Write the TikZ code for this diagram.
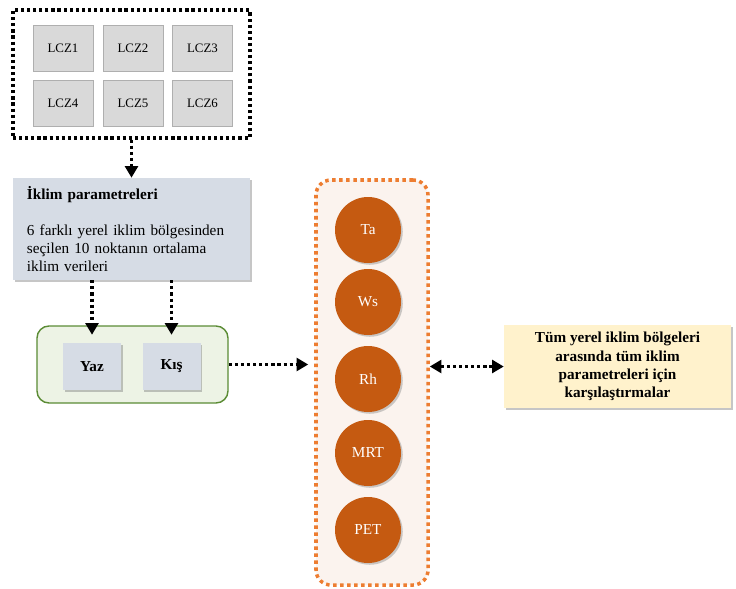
\documentclass[tikz,border=0pt]{standalone}
\usepackage{fontspec}
\setmainfont{Liberation Serif}
\usetikzlibrary{arrows.meta,shadows}

\definecolor{cellgray}{HTML}{D9D9D9}
\definecolor{cellline}{HTML}{AFAFAF}
\definecolor{bluegray}{HTML}{D6DCE5}
\definecolor{leafgreen}{HTML}{5B8C35}
\definecolor{palegreen}{HTML}{EDF3E5}
\definecolor{rust}{HTML}{C55A11}
\definecolor{tangerine}{HTML}{ED7D31}
\definecolor{peach}{HTML}{FBF3EE}
\definecolor{cream}{HTML}{FFF2CC}

\begin{document}
\begin{tikzpicture}[x=0.03cm,y=-0.03cm]

\tikzstyle{lcz}=[rectangle,draw=cellline,fill=cellgray,line width=0.8pt,minimum width=1.8cm,minimum height=1.38cm,font=\fontsize{11}{13}\selectfont,drop shadow={opacity=0.25,shadow xshift=0.6pt,shadow yshift=-0.6pt}]
\tikzstyle{plain}=[rectangle,fill=bluegray,drop shadow={opacity=0.45,shadow xshift=1.5pt,shadow yshift=-1.5pt}]
\tikzstyle{param}=[circle,fill=rust,text=white,minimum size=1.98cm,inner sep=0pt,font=\fontsize{13}{15}\selectfont,drop shadow={opacity=0.4,shadow xshift=1.5pt,shadow yshift=-1.5pt}]
\tikzstyle{dots}=[line width=2.7pt,dash pattern=on 2.7pt off 2.5pt]
\tikzstyle{link}=[dots,-{Triangle[length=10pt,width=11pt]}]
\tikzstyle{twoway}=[dots,{Triangle[length=10pt,width=11pt]}-{Triangle[length=10pt,width=11pt]}]

\useasboundingbox (0,0) rectangle (736,588) ;

% zones
\node[rectangle,draw,dots,minimum width=7.11cm,minimum height=3.84cm] (zones) at (131.5,74) {} ;
\node[lcz] (z1) at (63,48)    {LCZ1} ;
\node[lcz] (z2) at (133,48)   {LCZ2} ;
\node[lcz] (z3) at (202.5,48) {LCZ3} ;
\node[lcz] (z4) at (63,103)   {LCZ4} ;
\node[lcz] (z5) at (133,103)  {LCZ5} ;
\node[lcz] (z6) at (202.5,103) {LCZ6} ;

% climate data
\node[plain,minimum width=7.11cm,minimum height=3.06cm,text width=6.27cm,align=left,font=\fontsize{13}{15.3}\selectfont] (data) at (131.5,229)
  {\textbf{İklim parametreleri}\\[15.3pt]6 farklı yerel iklim bölgesinden\\seçilen 10 noktanın ortalama\\iklim verileri} ;

% seasons
\node[rectangle,rounded corners=0.36cm,draw=leafgreen,line width=1.2pt,fill=palegreen,minimum width=5.73cm,minimum height=2.31cm] (season) at (132.5,364.5) {} ;
\node[plain,minimum width=1.74cm,minimum height=1.41cm,font=\fontsize{13}{15}\selectfont\bfseries] (yaz) at (92,366.5)  {Yaz} ;
\node[plain,minimum width=1.74cm,minimum height=1.41cm,font=\fontsize{13}{15}\selectfont\bfseries] (kis) at (171.5,366.5) {Kış} ;

% parameters
\node[rectangle,rounded corners=0.45cm,draw=tangerine,fill=peach,line width=3pt,dash pattern=on 3pt off 3pt,minimum width=3.36cm,minimum height=12.15cm] (params) at (372,382.5) {} ;
\node[param] (ta)  at (368,230) {Ta} ;
\node[param] (ws)  at (368,302) {Ws} ;
\node[param] (rh)  at (368,379) {Rh} ;
\node[param] (mrt) at (368,453) {MRT} ;
\node[param] (pet) at (368,530) {PET} ;

% comparison
\node[rectangle,fill=cream,minimum width=6.81cm,minimum height=2.49cm,align=center,font=\fontsize{13}{15.5}\selectfont\bfseries,drop shadow={opacity=0.45,shadow xshift=1.5pt,shadow yshift=-1.5pt}] (comp) at (617.5,366.5)
  {Tüm yerel iklim bölgeleri\\arasında tüm iklim\\parametreleri için\\karşılaştırmalar} ;

\draw[link] (zones.south) -- (data.north) ;
\draw[link,shorten >=0.24cm] (data.south -| yaz.north) -- (yaz.north) ;
\draw[link,shorten >=0.24cm] (data.south -| kis.north) -- (kis.north) ;
\draw[link,shorten >=0.18cm] (season.east) -- (season.east -| params.west) ;
\draw[twoway] (params.east |- comp.west) -- (comp.west) ;

\end{tikzpicture}
\end{document}
